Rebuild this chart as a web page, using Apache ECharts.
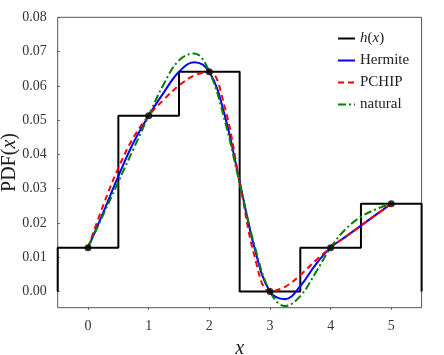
<!DOCTYPE html>
<html>
<head>
<meta charset="utf-8">
<script src="https://cdn.jsdelivr.net/npm/echarts@6/dist/echarts.min.js"></script>
<style>
  html, body { margin: 0; padding: 0; background: #fff; }
  #chart { width: 444px; height: 355px; }
</style>
</head>
<body>
<div id="chart"></div>
<script>
// sample points and the histogram h(x)
const pointX = [0, 1, 2, 3, 4, 5]
const pointY = [0.012821, 0.051282, 0.064103, 0, 0.012821, 0.025641]
const binEdges = [-0.5, 0.5, 1.5, 2.5, 3.5, 4.5, 5.5]
const binHeights = [0.012821, 0.051282, 0.064103, 0, 0.012821, 0.025641]

// interpolants
const curveX = [0, 0.25, 0.5, 0.75, 1, 1.25, 1.5, 1.75, 2, 2.25, 2.5, 2.75, 3, 3.25, 3.5, 3.75, 4, 4.25, 4.5, 4.75, 5]
const hermiteY = [0.012821, 0.023037, 0.033654, 0.043470, 0.051282, 0.058093, 0.064103, 0.066907, 0.064103, 0.051683, 0.032051, 0.012420, 0, -0.002204, 0.001603, 0.007812, 0.012821, 0.016026, 0.019231, 0.022436, 0.025641]
const pchipY = [0.012821, 0.025140, 0.036058, 0.044972, 0.051282, 0.055990, 0.060096, 0.063001, 0.064103, 0.054087, 0.032051, 0.010016, 0, 0.001402, 0.004808, 0.009014, 0.012821, 0.016026, 0.019231, 0.022436, 0.025641]
const naturalY = [0.012821, 0.022407, 0.032005, 0.041627, 0.051282, 0.060571, 0.067446, 0.069443, 0.064103, 0.050211, 0.031545, 0.013133, 0, -0.004202, -0.001319, 0.005429, 0.012821, 0.018280, 0.021807, 0.024046, 0.025641]

const xTicks = [0, 1, 2, 3, 4, 5]
const yTicks = [0, 0.01, 0.02, 0.03, 0.04, 0.05, 0.06, 0.07, 0.08]

function stepPath() {
  const pts = [[binEdges[0], 0]]
  for (let i = 0; i < binHeights.length; i++) {
    pts.push([binEdges[i], binHeights[i]])
    pts.push([binEdges[i + 1], binHeights[i]])
  }
  pts.push([binEdges[binEdges.length - 1], 0])
  return pts
}

function zip(xs, ys) {
  return xs.map((x, i) => [x, ys[i]])
}

const serif = 'Liberation Serif'
const chart = echarts.init(document.getElementById('chart'))

const option = {
  animation: false,
  grid: {
    left: 57.7,
    right: 22.4,
    top: 17.3,
    bottom: 47.3,
    containLabel: false,
    outerBoundsMode: 'none',
    show: true,
    borderColor: '#555',
    borderWidth: 1,
    backgroundColor: 'transparent'
  },
  legend: {
    orient: 'vertical',
    left: 337,
    top: 31,
    padding: 0,
    itemWidth: 17,
    itemHeight: 14,
    itemGap: 7,
    itemStyle: { color: 'transparent', borderWidth: 0 },
    data: ['h(x)', 'Hermite', 'PCHIP', 'natural'],
    formatter: function (name) {
      if (name === 'h(x)') return '{i|h}({i|x})'
      return name
    },
    textStyle: {
      fontFamily: serif,
      fontSize: 15,
      color: '#222',
      rich: {
        i: { fontFamily: serif, fontSize: 15, fontStyle: 'italic', color: '#222' }
      }
    }
  },
  xAxis: {
    type: 'value',
    min: -0.5,
    max: 5.5,
    name: 'x',
    nameLocation: 'middle',
    nameGap: 31,
    nameMoveOverlap: false,
    nameTextStyle: { fontFamily: serif, fontSize: 20, fontStyle: 'italic', color: '#222' },
    axisLine: { show: false, onZero: false },
    splitLine: { show: false },
    axisTick: { show: true, inside: false, length: 2, customValues: xTicks, lineStyle: { color: '#555' } },
    axisLabel: { customValues: xTicks, fontFamily: serif, fontSize: 14, color: '#333', margin: 12 }
  },
  yAxis: {
    type: 'value',
    min: -0.0047,
    max: 0.08,
    name: 'PDF({i|x})',
    nameLocation: 'middle',
    nameGap: 38,
    nameMoveOverlap: false,
    nameTextStyle: {
      fontFamily: serif,
      fontSize: 20,
      color: '#222',
      rich: { i: { fontFamily: serif, fontSize: 20, fontStyle: 'italic', color: '#222' } }
    },
    axisLine: { show: false, onZero: false },
    splitLine: { show: false },
    axisTick: { show: true, inside: true, length: 2, customValues: yTicks, lineStyle: { color: '#555' } },
    axisLabel: {
      customValues: yTicks,
      fontFamily: serif,
      fontSize: 14,
      color: '#333',
      margin: 11,
      formatter: v => v.toFixed(2)
    }
  },
  series: [
    {
      name: 'h(x)',
      type: 'line',
      data: stepPath(),
      symbol: 'none',
      z: 2,
      lineStyle: { color: '#000', width: 2 },
      itemStyle: { color: '#000' }
    },
    {
      name: 'Hermite',
      type: 'line',
      data: zip(curveX, hermiteY),
      smooth: 0.4,
      symbol: 'none',
      z: 3,
      lineStyle: { color: '#0000ff', width: 2 },
      itemStyle: { color: '#0000ff' }
    },
    {
      name: 'PCHIP',
      type: 'line',
      data: zip(curveX, pchipY),
      smooth: 0.4,
      symbol: 'none',
      z: 4,
      lineStyle: { color: '#ff0000', width: 2, type: [6, 4] },
      itemStyle: { color: '#ff0000' }
    },
    {
      name: 'natural',
      type: 'line',
      data: zip(curveX, naturalY),
      smooth: 0.4,
      symbol: 'none',
      z: 5,
      lineStyle: { color: '#008000', width: 2, type: [8, 3, 2, 3] },
      itemStyle: { color: '#008000' }
    },
    {
      name: 'points',
      type: 'scatter',
      data: zip(pointX, pointY),
      symbolSize: 7,
      z: 6,
      itemStyle: { color: '#000' }
    }
  ]
}

chart.setOption(option)
</script>
</body>
</html>
